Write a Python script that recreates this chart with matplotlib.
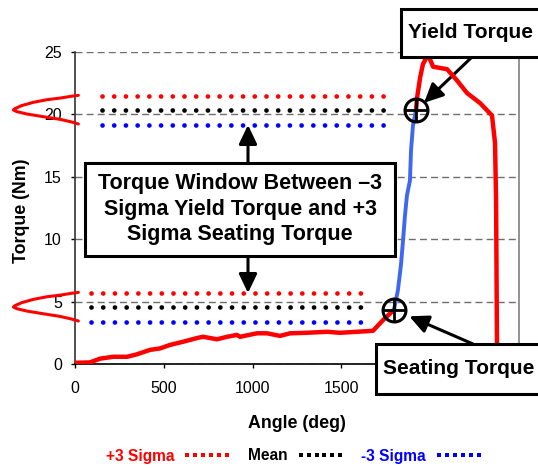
import matplotlib
matplotlib.use('Agg')
import matplotlib.pyplot as plt
from matplotlib.lines import Line2D
from matplotlib.patches import Rectangle
from matplotlib.transforms import IdentityTransform

plt.rcParams['font.family'] = ['Liberation Sans', 'DejaVu Sans']

# ---------------- data ----------------
# rundown / seating part of the curve (red)
load_angle = [0, 84, 141, 214, 293, 349, 422, 479, 535, 608, 687, 721, 800, 856,
              912, 929, 1025, 1081, 1154, 1211, 1306, 1419, 1492, 1588, 1678,
              1734, 1774, 1796]
load_torque = [0.12, 0.15, 0.45, 0.6, 0.6, 0.8, 1.15, 1.27, 1.55, 1.8, 2.1, 2.2,
               2.0, 2.2, 2.35, 2.2, 2.48, 2.48, 2.27, 2.48, 2.52, 2.6, 2.52, 2.6,
               2.68, 3.53, 4.06, 4.37]
# elastic clamping part (blue)
elastic_angle = [1796, 1818, 1835, 1847, 1858, 1869, 1886, 1892, 1903, 1920]
elastic_torque = [4.37, 5.9, 7.9, 9.9, 11.9, 13.5, 14.7, 17.1, 19.1, 20.3]
# beyond yield (red)
yield_angle = [1920, 1926, 1943, 1959, 1982, 1993, 2016, 2095, 2151, 2207, 2280,
               2348, 2365, 2371, 2376, 2376]
yield_torque = [20.3, 21.3, 22.9, 24.0, 24.6, 24.6, 23.8, 23.6, 22.7, 21.7, 20.9,
                19.9, 17.7, 13.1, 1.5, 0.0]

seating_point = (1796, 4.37)
yield_point = (1920, 20.3)

# sigma levels
yield_levels = {'plus': 21.46, 'mean': 20.34, 'minus': 19.14}
yield_span = [150, 1768]
seating_levels = {'plus': 5.7, 'mean': 4.58, 'minus': 3.4}
seating_span = [88, 1640]

# distribution sketch (offsets from the mean)
bell_dx = [19, -19, -84, -159, -235, -300, -338, -347, -328, -272, -178, -84, -19, 19]
bell_dy = [1.17, 1.10, 0.95, 0.82, 0.61, 0.35, 0.11, 0.0, -0.13, -0.32, -0.54,
           -0.75, -0.96, -1.12]

legend_labels = ['+3 Sigma', 'Mean', '-3 Sigma']
level_colors = {'plus': '#FF0000', 'mean': '#000000', 'minus': '#0000FF'}

x_ticks = [0, 500, 1000, 1500, 2000, 2500]
y_ticks = [0, 5, 10, 15, 20, 25]

# ---------------- figure ----------------
W, H = 538, 468
fig = plt.figure(figsize=(W / 100, H / 100), dpi=100)
ax = fig.add_axes([75 / W, (H - 364.3) / H, 444 / W, 312.6 / H])

ax.set_xlim(0, 2500)
ax.set_ylim(0, 25)
ax.set_xticks(x_ticks)
ax.set_yticks(y_ticks)
ax.tick_params(axis='both', direction='out', length=3.2, width=1, labelsize=11.5,
               colors='black')
ax.tick_params(axis='x', pad=9)
ax.tick_params(axis='y', pad=6.3)

ax.yaxis.grid(True, color='#6e6e6e', linestyle=(0, (5, 3)), linewidth=1)
ax.set_axisbelow(True)
ax.spines['top'].set_visible(False)
ax.spines['right'].set_color('#808080')
ax.spines['right'].set_linewidth(1.2)
ax.spines['left'].set_color('#333333')
ax.spines['left'].set_linewidth(1.2)
ax.spines['bottom'].set_linewidth(1.2)

# dotted sigma lines
dot_lw = 3.4
for levels, span in ((yield_levels, yield_span), (seating_levels, seating_span)):
    for key, val in levels.items():
        ax.plot(span, [val, val], color=level_colors[key], lw=dot_lw,
                linestyle=(0, (0.01, 2.47)), dash_capstyle='round', zorder=3)

# distribution sketches at the left of the axis
for levels in (yield_levels, seating_levels):
    ax.plot(bell_dx, [levels['mean'] + d for d in bell_dy], color='#FF0000',
            lw=2.2, clip_on=False, solid_joinstyle='round', solid_capstyle='round',
            zorder=4)

# torque-angle curve
ax.plot(load_angle, load_torque, color='#FF0000', lw=3.2, solid_joinstyle='round', zorder=5)
ax.plot(yield_angle, yield_torque, color='#FF0000', lw=3.2, solid_joinstyle='round', zorder=5)
ax.plot(elastic_angle, elastic_torque, color='#3F67F0', lw=2.8, solid_joinstyle='round', zorder=6)

# circle + cross markers
for pt in (seating_point, yield_point):
    ax.plot([pt[0]], [pt[1]], marker='o', ms=16.5, mfc='none', mec='black', mew=2.2, zorder=8)
    ax.plot([pt[0]], [pt[1]], marker='+', ms=17.5, mec='black', mew=2.0, zorder=8)

arrow_style = '-|>,head_length=1.15,head_width=0.55'
arrowprops = dict(arrowstyle=arrow_style, lw=2.2, color='black', shrinkA=0,
                  mutation_scale=10)

# arrows to yield / seating points
ax.annotate('', xy=yield_point, xycoords='data', xytext=(472, H - 57),
            textcoords='figure pixels', annotation_clip=False,
            arrowprops=dict(arrowprops, shrinkB=8))
ax.annotate('', xy=seating_point, xycoords='data', xytext=(473, H - 344),
            textcoords='figure pixels', annotation_clip=False,
            arrowprops=dict(arrowprops, shrinkB=12))

# arrows from the window box
win_x = 974
ax.annotate('', xy=(win_x, yield_levels['minus']), xycoords='data',
            xytext=(248, H - 163), textcoords='figure pixels', annotation_clip=False,
            arrowprops=dict(arrowprops, shrinkB=0))
ax.annotate('', xy=(win_x, seating_levels['plus']), xycoords='data',
            xytext=(248, H - 256), textcoords='figure pixels', annotation_clip=False,
            arrowprops=dict(arrowprops, shrinkB=0))

# boxes (figure level, drawn above the axes)
ident = IdentityTransform()
box_kw = dict(facecolor='white', edgecolor='black', linewidth=2.2, transform=ident)
fig.add_artist(Rectangle((85, H - 256), 310, 93, **box_kw))
fig.add_artist(Rectangle((401, H - 57), 200, 48, **box_kw))
fig.add_artist(Rectangle((376, H - 394), 200, 50, **box_kw))

fig.text(240, H - 209, 'Torque Window Between \u20133\nSigma Yield Torque and +3\nSigma Seating Torque',
         ha='center', va='center', fontsize=15.5, fontweight='bold', linespacing=1.3,
         transform=ident, zorder=5)
fig.text(408, H - 33, 'Yield Torque', ha='left', va='center', fontsize=15.1,
         fontweight='bold', transform=ident, zorder=5)
fig.text(383, H - 369, 'Seating Torque', ha='left', va='center', fontsize=15.1,
         fontweight='bold', transform=ident, zorder=5)

# axis labels
fig.text(296.5, H - 423, 'Angle (deg)', ha='center', va='center', fontsize=12.8,
         fontweight='bold', transform=ident)
fig.text(21.5, H - 211, 'Torque (Nm)', ha='center', va='center', rotation=90,
         fontsize=12.8, fontweight='bold', transform=ident)

# legend
handles = [Line2D([], [], ls='none', marker='s', ms=3.3, color=level_colors[k], mew=0)
           for k in ('plus', 'mean', 'minus')]
leg = fig.legend(handles, legend_labels, loc='center',
                 bbox_to_anchor=(294.5 / W, 12 / H), ncol=3, frameon=False,
                 numpoints=6, markerfirst=False, handlelength=3.14,
                 handletextpad=0.55, columnspacing=1.06, borderpad=0,
                 borderaxespad=0, prop={'weight': 'bold', 'size': 11.2})
for t, k in zip(leg.get_texts(), ('plus', 'mean', 'minus')):
    t.set_color(level_colors[k])

fig.savefig('out.png', dpi=100)
